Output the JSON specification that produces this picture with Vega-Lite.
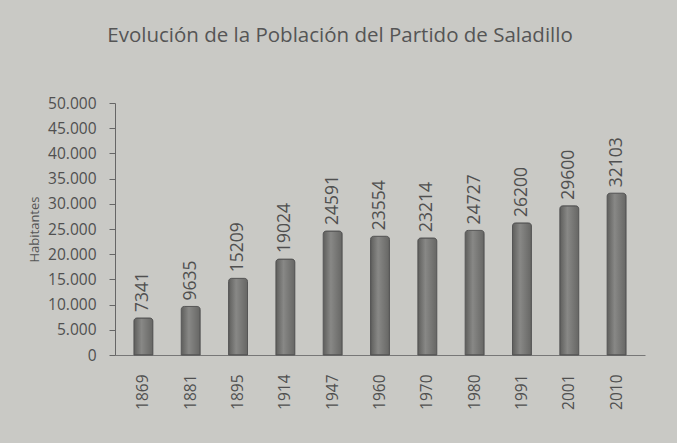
{
  "$schema": "https://vega.github.io/schema/vega-lite/v6.json",
  "autosize": {"type": "none"},
  "width": 530,
  "height": 252,
  "padding": {"left": 115, "top": 103, "right": 32, "bottom": 88},
  "background": "#c9c9c5",
  "title": {
    "text": "Evolución de la Población del Partido de Saladillo",
    "font": "Open Sans",
    "fontSize": 20.5,
    "fontWeight": "normal",
    "color": "#555555",
    "anchor": "middle",
    "frame": "group",
    "dx": -40,
    "offset": 50
  },
  "config": {
    "view": {"stroke": null},
    "axis": {"labelFont": "Open Sans", "titleFont": "Open Sans", "labelColor": "#505050", "titleColor": "#555555", "domainColor": "#666666", "tickColor": "#666666", "grid": false}
  },
  "data": {
    "values": [
      {"anio": "1869", "hab": 7341},
      {"anio": "1881", "hab": 9635},
      {"anio": "1895", "hab": 15209},
      {"anio": "1914", "hab": 19024},
      {"anio": "1947", "hab": 24591},
      {"anio": "1960", "hab": 23554},
      {"anio": "1970", "hab": 23214},
      {"anio": "1980", "hab": 24727},
      {"anio": "1991", "hab": 26200},
      {"anio": "2001", "hab": 29600},
      {"anio": "2010", "hab": 32103}
    ]
  },
  "encoding": {
    "x": {
      "field": "anio", "type": "ordinal", "sort": null,
      "scale": {"paddingInner": 0.6, "paddingOuter": 0.4},
      "axis": {"title": null, "labelAngle": -90, "labelFontSize": 15.5, "labelPadding": 19, "ticks": false, "domainColor": "#777777", "labelBaseline": "middle"}
    },
    "y": {
      "field": "hab", "type": "quantitative",
      "scale": {"domain": [0, 50000]},
      "axis": {"title": "Habitantes", "titleFontSize": 13, "titleFontWeight": "normal", "titlePadding": 6, "labelFontSize": 15.5, "labelOverlap": false, "values": [0,5000,10000,15000,20000,25000,30000,35000,40000,45000,50000], "labelExpr": "replace(format(datum.value, ','), ',', '.')", "tickSize": 6, "labelPadding": 13}
    }
  },
  "layer": [
    {
      "mark": {
        "type": "bar",
        "cornerRadiusTopLeft": 3,
        "cornerRadiusTopRight": 3,
        "stroke": "#555555",
        "strokeWidth": 1,
        "fill": {"gradient": "linear", "x1": 0, "x2": 1, "y1": 0, "y2": 0, "stops": [{"offset": 0, "color": "#5e5e5c"}, {"offset": 0.4, "color": "#888886"}, {"offset": 1, "color": "#666664"}]}
      }
    },
    {
      "mark": {"type": "text", "angle": 270, "align": "left", "baseline": "middle", "dx": 6, "font": "Open Sans", "fontSize": 17.5, "color": "#505050"},
      "encoding": {"text": {"field": "hab", "type": "quantitative", "format": "d"}}
    }
  ]
}
